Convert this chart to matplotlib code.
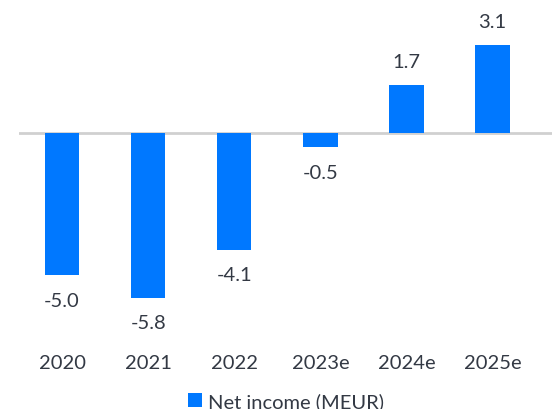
import matplotlib.pyplot as plt

# Dados do grafico
years = ['2020', '2021', '2022', '2023e', '2024e', '2025e']
net_income = [-5.0, -5.8, -4.1, -0.5, 1.7, 3.1]
labels = ['-5.0', '-5.8', '-4.1', '-0.5', '1.7', '3.1']

plt.rcParams['font.family'] = ['Lato', 'DejaVu Sans']
txt_color = '#333944'
bar_color = '#0078ff'

fig = plt.figure(figsize=(5.52, 4.10), dpi=100)
ax = fig.add_axes([19/552, 70/410, 1 - 19/552, 340/410])

x = list(range(len(years)))
ax.bar(x, net_income, width=0.4, color=bar_color, label='Net income (MEUR)', zorder=2)
ax.axhline(0, color='#d0d0d0', linewidth=2, zorder=1)

# Rotulos dos valores
for xi, v, lab in zip(x, net_income, labels):
    off = 17 if v > 0 else -18
    ax.annotate(lab, (xi, v), xytext=(0, off), textcoords='offset points',
                ha='center', va='center', fontsize=14.5, color=txt_color)

ax.set_xlim(-0.5, 5.69)
ax.set_ylim(-7.25, 4.72)
ax.set_xticks(x)
ax.set_xticklabels(years, fontsize=14.5, color=txt_color)
ax.tick_params(axis='x', length=0, pad=11)
ax.set_yticks([])
for s in ax.spines.values():
    s.set_visible(False)

fig.legend(loc='center', bbox_to_anchor=(286/552, 1 - 402/410), frameon=False,
           fontsize=14.5, handlelength=0.7, handleheight=0.7, handletextpad=0.3,
           labelcolor=txt_color)

fig.savefig('out.png', dpi=100)
